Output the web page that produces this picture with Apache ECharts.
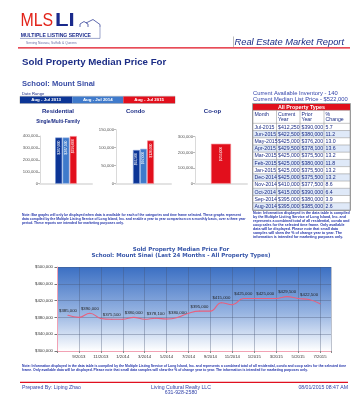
<!DOCTYPE html>
<html><head><meta charset="utf-8">
<script src="https://cdn.jsdelivr.net/npm/echarts@6/dist/echarts.min.js"></script>
<style>html,body{margin:0;padding:0;background:#fff}#c{width:362px;height:400px}</style>
</head><body><div id="c"></div>
<script>
// ---- data ----
const months = ['8/2013','9/2013','10/2013','11/2013','12/2013','1/2014','2/2014','3/2014','4/2014','5/2014','6/2014','7/2014',
                '8/2014','9/2014','10/2014','11/2014','12/2014','1/2015','2/2015','3/2015','4/2015','5/2015','6/2015','7/2015'];
const medianPrice = [385000,380000,390000,377500,375500,375500,380000,375500,378100,376200,380000,390000,
                     395000,395000,415000,410000,425000,425000,425000,425000,429500,425000,422500,412250];
const tableMonths = ['Jul-2015','Jun-2015','May-2015','Apr-2015','Mar-2015','Feb-2015','Jan-2015','Dec-2014','Nov-2014','Oct-2014','Sep-2014','Aug-2014'];
const tableCurrent = [412250,422500,425000,429500,425000,425000,425000,425000,410000,415000,395000,395000];
const tablePrior   = [390000,380000,376200,378100,375500,380000,375500,375500,377500,390000,380000,385000];
const tablePct     = ['5.7','11.2','13.0','13.6','13.2','11.8','13.2','13.2','8.6','6.4','3.9','2.6'];
const barYears = ['Aug - Jul 2013','Aug - Jul 2014','Aug - Jul 2015'];
const residential = [387000, 387500, 399000];
const condo = [93500, 97000, 120000];
const coop = [255000];
const barColors = ['#0c3596','#3f7acb','#e20f1c'];

const fmt = v => v.toLocaleString('en-US');
const NAVY = '#1c2d86', BLUE = '#2f45a8';

function T(x, y, text, size, color, o) {
  o = o || {};
  return {type:'text', x:x, y:y, silent:true, scaleX:o.sx||1, scaleY:o.sy||1, z:10,
    style:{text:text, fontSize:size, fontFamily:o.family||'Liberation Sans', fontWeight:o.weight||'normal',
      fontStyle:o.italic?'italic':'normal', fill:color, align:o.align||'left', verticalAlign:o.va||'middle',
      textAlign:o.align||'left', textVerticalAlign:o.va||'middle', lineHeight:o.lh||undefined}};
}
function L(x1,y1,x2,y2,c,w){return {type:'line',silent:true,z:9,shape:{x1,y1,x2,y2},style:{stroke:c,lineWidth:w||1}};}
function R(x,y,w,h,fill,stroke,lw){return {type:'rect',silent:true,z:8,shape:{x,y,width:w,height:h},style:{fill:fill||'none',stroke:stroke||'none',lineWidth:lw||0}};}

const g = [];
// header / logo
g.push(T(20.5,20.5,'MLS',18.5,'#e2231a',{sx:0.86}));
g.push(T(55,20.5,'LI',18.5,'#1a2a8c',{weight:900,sx:1.2}));
g.push({type:'polyline',silent:true,z:9,shape:{points:[[80,27],[80,24],[84,21.5],[88,24],[88,27]]},style:{stroke:'#1a2a8c',lineWidth:0.7,fill:'none'}});
g.push({type:'polyline',silent:true,z:9,shape:{points:[[86,23],[93,19.5],[100,24.5],[100,27]]},style:{stroke:'#1a2a8c',lineWidth:0.7,fill:'none'}});
g.push(T(20.7,35.3,'MULTIPLE LISTING SERVICE',5.1,'#1a2a8c',{weight:'bold'}));
g.push(L(20,38.4,100,38.4,'#5a6aa8',0.6));
g.push(L(100,27,100,38.4,'#5a6aa8',0.6));
g.push(T(26,42.7,'Serving Nassau, Suffolk & Queens',3.3,'#6a6fa8'));
g.push(L(233.5,36.5,233.5,47,'#777',0.5));
g.push(T(234.5,42,'Real Estate Market Report',9.3,NAVY,{italic:true}));
g.push(L(18,47.8,350,47.8,'#e01020',1.3));

g.push(T(22,62,'Sold Property Median Price For',9.7,NAVY,{weight:'bold'}));
g.push(T(22,83.5,'School: Mount Sinai',7.6,'#3a4ea6',{weight:'bold'}));
g.push(T(22,93.6,'Date Range',4.2,NAVY));
// legend boxes
g.push(R(20,96.3,155,7.2,'none','#999',0.6));
[[20,72.3],[72.3,123.3],[123.3,175]].forEach((p,i)=>{
  g.push(R(p[0],96.6,p[1]-p[0],6.6,barColors[i]));
  g.push(T((p[0]+p[1])/2,100,barYears[i],4.4,'#fff',{align:'center',weight:'bold'}));
});
g.push(T(58,111.8,'Residential',6,NAVY,{align:'center',weight:'bold'}));
g.push(T(135.5,111.8,'Condo',6,NAVY,{align:'center',weight:'bold'}));
g.push(T(212.5,111.8,'Co-op',6,NAVY,{align:'center',weight:'bold'}));
g.push(T(58,121.8,'Single/Multi-Family',4.8,NAVY,{align:'center',weight:'bold'}));

// left note
['Note: Bar graphs will only be displayed when data is available for each of the categories and time frame selected. These graphs represent',
 'data compiled by the Multiple Listing Service of Long Island, Inc. and enable a year to year comparison on a monthly basis, over a three year',
 'period. These reports are intended for marketing purposes only.'].forEach((s,i)=>g.push(T(22,215+i*4.2,s,3.35,'#2233aa',{weight:'bold'})));

// right info + table
g.push(T(253,93.3,'Current Available Inventory - 140',5.8,'#3344aa'));
g.push(T(253,99.6,'Current Median List Price - $522,000',5.8,'#3344aa'));
const tx = [253,276.5,300,324,350];
const ty0 = 110.3, hdrH = 13, rowH = 7.22;
g.push(R(252.5,103.5,98,107,'none','#888',0.8));
g.push(R(253,104,97,6.3,'#e0101c'));
g.push(T(301.5,107.2,'All Property Types',5.4,'#fff',{align:'center',weight:'bold'}));
['Month','Current\nYear','Prior\nYear','%\nChange'].forEach((s,c)=>{
  g.push(T(tx[c]+1.5,ty0+1.2,s,5.2,NAVY,{va:'top',lh:5.6}));
});
for (let r=0;r<tableMonths.length;r++){
  const y = ty0+hdrH+r*rowH;
  g.push(R(253,y,97,rowH, r%2===1?'#dfe9f8':'#ffffff'));
  const cells=[tableMonths[r],'$'+fmt(tableCurrent[r]),'$'+fmt(tablePrior[r]),tablePct[r]];
  cells.forEach((s,c)=>g.push(T(tx[c]+1.5,y+rowH/2+0.2,s,5.2,NAVY)));
}
for (let r=0;r<=tableMonths.length;r++){ const y=ty0+hdrH+r*rowH; g.push(L(253,y,350,y,'#8a8a8a',0.5)); }
g.push(L(253,ty0,350,ty0,'#8a8a8a',0.5));
tx.forEach(x=>g.push(L(x,ty0,x,ty0+hdrH+12*rowH,'#8a8a8a',0.5)));

['Note: Information displayed in the data table is compiled',
 'by the Multiple Listing Service of Long Island, Inc. and',
 'represents a combined total of all residential, condo and',
 'coop sales for the selected time frame. Only available',
 'data will be displayed. Please note that small data',
 'samples will skew the % of change year to year. The',
 'information is intended for marketing purposes only.'].forEach((s,i)=>g.push(T(253,212.5+i*4.15,s,3.6,'#2233aa',{weight:'bold'})));

// line chart titles
g.push(T(181,249.3,'Sold Property Median Price For',5.5,'#3554a8',{align:'center',family:'DejaVu Sans',weight:'bold'}));
g.push(T(181,256,'School: Mount Sinai (Last 24 Months - All Property Types)',5.5,'#3554a8',{align:'center',family:'DejaVu Sans',weight:'bold'}));

// bottom note
['Note: Information displayed in the data table is compiled by the Multiple Listing Service of Long Island, Inc. and represents a combined total of all residential, condo and coop sales for the selected time',
 'frame. Only available data will be displayed. Please note that small data samples will skew the % of change year to year. The information is intended for marketing purposes only.'].forEach((s,i)=>g.push(T(22,366+i*4.5,s,3.4,'#2233aa',{weight:'bold'})));

// footer
g.push(L(20,382.4,348,382.4,'#e01020',1.2));
g.push(T(22,388,'Prepared By: Liping Zhao',5.2,'#3344aa'));
g.push(T(181,387.6,'Living Cultural Realty LLC',5.2,'#3344aa',{align:'center'}));
g.push(T(181,392.3,'631-928-2580',5.2,'#3344aa',{align:'center'}));
g.push(T(348,388,'08/01/2015 08:47 AM',5.2,'#3344aa',{align:'right'}));

// ---- chart ----
const barGrids = [
  {left:40, top:136, width:52, height:47.7, max:400000, interval:100000},
  {left:116, top:129.7, width:55, height:54, max:150000, interval:50000},
  {left:195, top:136.7, width:52, height:47, max:300000, interval:100000}
];
const grids = barGrids.map(b=>({left:b.left, top:b.top, width:b.width, height:b.height}));
grids.push({left:57, top:267, width:274, height:84, show:true, borderWidth:0,
  backgroundColor:{type:'linear',x:0,y:0,x2:0,y2:1,colorStops:[{offset:0,color:'#3b6fc3'},{offset:0.55,color:'#98b5e2'},{offset:1,color:'#ffffff'}]}});

const xAxes = barGrids.map((b,i)=>({type:'category', gridIndex:i, data:['All'], axisLabel:{show:false}, axisTick:{show:false},
  axisLine:{lineStyle:{color:'#e3e3e3', width:2}}}));
xAxes.push({type:'value', gridIndex:3, min:0, max:25, interval:2,
  axisLine:{lineStyle:{color:'#f2a2b4', width:1}}, axisTick:{show:true, length:2, lineStyle:{color:'#888'}},
  splitLine:{show:true, lineStyle:{color:'rgba(70,85,115,0.45)', width:0.8}},
  axisLabel:{fontSize:4.3, color:'#333', margin:4, fontFamily:'Liberation Sans',
    formatter:v=> (v>=1 && v<=24) ? months[v-1] : ''}});
const yAxes = barGrids.map((b,i)=>({type:'value', gridIndex:i, min:0, max:b.max, interval:b.interval,
  axisLine:{show:true, lineStyle:{color:'#dadada'}}, axisTick:{show:true, length:2, lineStyle:{color:'#bbb'}},
  splitLine:{show:false}, axisLabel:{fontSize:4.2, color:'#555', margin:2, fontFamily:'Liberation Sans', formatter:v=>fmt(v)}}));
yAxes.push({type:'value', gridIndex:3, min:300000, max:500000, interval:40000,
  axisLine:{show:true, lineStyle:{color:'#f2a2b4'}}, axisTick:{show:true, length:2.5, lineStyle:{color:'#777'}},
  splitLine:{show:true, lineStyle:{color:'rgba(70,85,115,0.45)', width:0.8}},
  axisLabel:{fontSize:4.3, color:'#333', margin:4, fontFamily:'Liberation Sans', formatter:v=>'$'+fmt(v)}});

const barLabel = {show:true, position:'insideTop', rotate:90, align:'right', verticalAlign:'middle', distance:3,
  fontSize:3.4, color:'#fff', fontFamily:'Liberation Sans', formatter:p=>'$'+fmt(p.value)};
const border = ['#6f8fd0','#9dbbe8','#f38a92'];
const series = [];
[residential, condo].forEach((arr,gi)=>{
  arr.forEach((v,k)=>series.push({type:'bar', xAxisIndex:gi, yAxisIndex:gi, data:[v], barWidth:gi===0?7:6.8, barGap:'4%',
    itemStyle:{color:barColors[k], borderColor:border[k], borderWidth:0.6}, label:barLabel}));
});
series.push({type:'bar', xAxisIndex:2, yAxisIndex:2, data:coop, barWidth:20,
  itemStyle:{color:barColors[2], borderColor:border[2], borderWidth:0.6}, label:barLabel});
series.push({type:'line', xAxisIndex:3, yAxisIndex:3, data:medianPrice.map((v,i)=>[i+1,v]), smooth:0.45,
  symbol:'circle', symbolSize:1, itemStyle:{color:'#e8607e'}, lineStyle:{color:'#e8607e', width:1.1},
  label:{show:true, position:'top', distance:2, fontSize:4.3, color:'#222', fontFamily:'Liberation Sans',
    formatter:p=> p.dataIndex%2===0 ? '$'+fmt(p.value[1]) : ''}});

const chart = echarts.init(document.getElementById('c'), null, {renderer:'canvas'});
chart.setOption({animation:false, backgroundColor:'#fff', grid:grids, xAxis:xAxes, yAxis:yAxes, series:series, graphic:{elements:g}});
</script></body></html>
